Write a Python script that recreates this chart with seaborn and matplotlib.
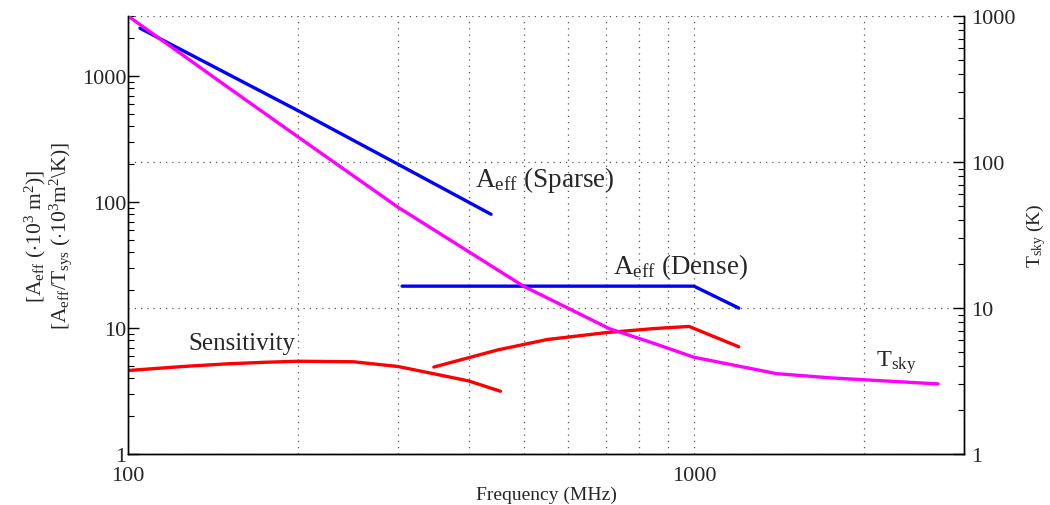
import numpy as np
import pandas as pd
import matplotlib
matplotlib.use("Agg")
import matplotlib.pyplot as plt
import matplotlib.ticker as mticker
import seaborn as sns

# ---- data ----
sparse_f = [105, 200, 328, 438]
sparse_a = [2400, 530, 161, 80]

dense_f = [305, 1000, 1200]
dense_a = [21.5, 21.5, 14.4]

sens1_f = [100, 125, 150, 175, 200, 250, 300, 350, 400, 455]
sens1_v = [4.6, 4.95, 5.2, 5.35, 5.45, 5.4, 4.95, 4.3, 3.8, 3.15]

sens2_f = [347, 450, 550, 700, 850, 980, 1200]
sens2_v = [4.9, 6.7, 8.1, 9.2, 9.9, 10.3, 7.1]

tsky_f = [100, 150, 200, 300, 400, 500, 710, 836, 1000, 1400, 1750, 2700]
tsky_t = [1000, 326, 148, 49, 24.3, 14.1, 7.2, 5.85, 4.6, 3.55, 3.32, 3.02]

xticks = [100, 1000]
left_yticks = [1, 10, 100, 1000]
right_yticks = [1, 10, 100, 1000]

# ---- style ----
sns.set_style("white")
plt.rcParams['font.family'] = ['Liberation Serif', 'DejaVu Serif']
plt.rcParams['mathtext.fontset'] = 'custom'
plt.rcParams['mathtext.rm'] = 'Liberation Serif'
plt.rcParams['mathtext.it'] = 'Liberation Serif:italic'
plt.rcParams['mathtext.bf'] = 'Liberation Serif:bold'

fig = plt.figure(figsize=(10.5, 5.06), dpi=100)
ax = fig.add_axes([128/1050, 1-455/506, (964-128)/1050, (455-17)/506])
ax2 = ax.twinx()

lw = 2.4
sns.lineplot(x=sparse_f, y=sparse_a, ax=ax, color='#0000ff', lw=lw, sort=False)
sns.lineplot(x=dense_f, y=dense_a, ax=ax, color='#0000ff', lw=lw, sort=False)
sns.lineplot(x=sens1_f, y=sens1_v, ax=ax, color='#ff0000', lw=lw, sort=False)
sns.lineplot(x=sens2_f, y=sens2_v, ax=ax, color='#ff0000', lw=lw, sort=False)
sns.lineplot(x=tsky_f, y=tsky_t, ax=ax2, color='#ff00ff', lw=lw, sort=False)

for a in (ax, ax2):
    a.set_xscale('log')
    a.set_yscale('log')
    a.set_xlim(100, 3000)
ax.set_ylim(1, 3000)
ax2.set_ylim(1, 1000)

fmt = mticker.FuncFormatter(lambda v, p: f"{v:g}")
# ticks
ax.set_xticks(xticks)
ax.xaxis.set_major_formatter(fmt)
ax.xaxis.set_minor_locator(mticker.LogLocator(base=10, subs=np.arange(2, 10)))
ax.xaxis.set_minor_formatter(mticker.NullFormatter())
ax.set_yticks(left_yticks)
ax.yaxis.set_major_formatter(fmt)
ax.yaxis.set_minor_locator(mticker.LogLocator(base=10, subs=np.arange(2, 10)))
ax.yaxis.set_minor_formatter(mticker.NullFormatter())
ax2.set_yticks(right_yticks)
ax2.yaxis.set_major_formatter(fmt)
ax2.yaxis.set_minor_locator(mticker.LogLocator(base=10, subs=np.arange(2, 10)))
ax2.yaxis.set_minor_formatter(mticker.NullFormatter())

ax.tick_params(axis='both', which='major', direction='in', length=8, width=1,
               labelsize=16, color='black', top=False)
ax.tick_params(axis='y', which='major', pad=1)
ax.tick_params(axis='x', which='major', pad=9)
ax.tick_params(axis='both', which='minor', direction='in', length=4, width=0.8,
               color='black', top=False)
ax2.tick_params(axis='y', which='major', direction='in', length=8, width=1,
                labelsize=16, color='black', pad=5)
ax2.tick_params(axis='y', which='minor', direction='in', length=4, width=0.8, color='black')

# grid
gstyle = dict(color='#555555', linestyle=(0, (1, 4)), linewidth=0.9)
ax.grid(True, which='both', axis='x', **gstyle)
ax.grid(False, axis='y')
ax2.grid(True, which='major', axis='y', **gstyle)
ax2.grid(False, axis='x')
ax.set_axisbelow(True)

for a in (ax, ax2):
    a.spines['top'].set_visible(False)
    for s in ('left', 'right', 'bottom'):
        a.spines[s].set_color('black')
        a.spines[s].set_linewidth(1.0)

# labels
ax.set_xlabel('Frequency (MHz)', fontsize=14, labelpad=0)
ax.set_ylabel('[A$_{\\rm eff}$ ($\\cdot$10$^3$ m$^2$)]\n'
              '[A$_{\\rm eff}$/T$_{\\rm sys}$ ($\\cdot$10$^3$m$^2$\\K)]',
              fontsize=15.5, labelpad=6, linespacing=0.95)
ax2.set_ylabel('T$_{\\rm sky}$ (K)', fontsize=14, labelpad=6)

# annotations
ax.text(410, 134, 'A$_{\\rm eff}$ (Sparse)', fontsize=19.5, va='baseline', ha='left')
ax.text(718, 27.4, 'A$_{\\rm eff}$ (Dense)', fontsize=19.5, va='baseline', ha='left')
ax.text(127.6, 6.8, 'Sensitivity', fontsize=18, va='baseline', ha='left')
ax.text(2095, 5.0, 'T$_{\\rm sky}$', fontsize=17.5, va='baseline', ha='left')

fig.savefig('out.png', dpi=100)
